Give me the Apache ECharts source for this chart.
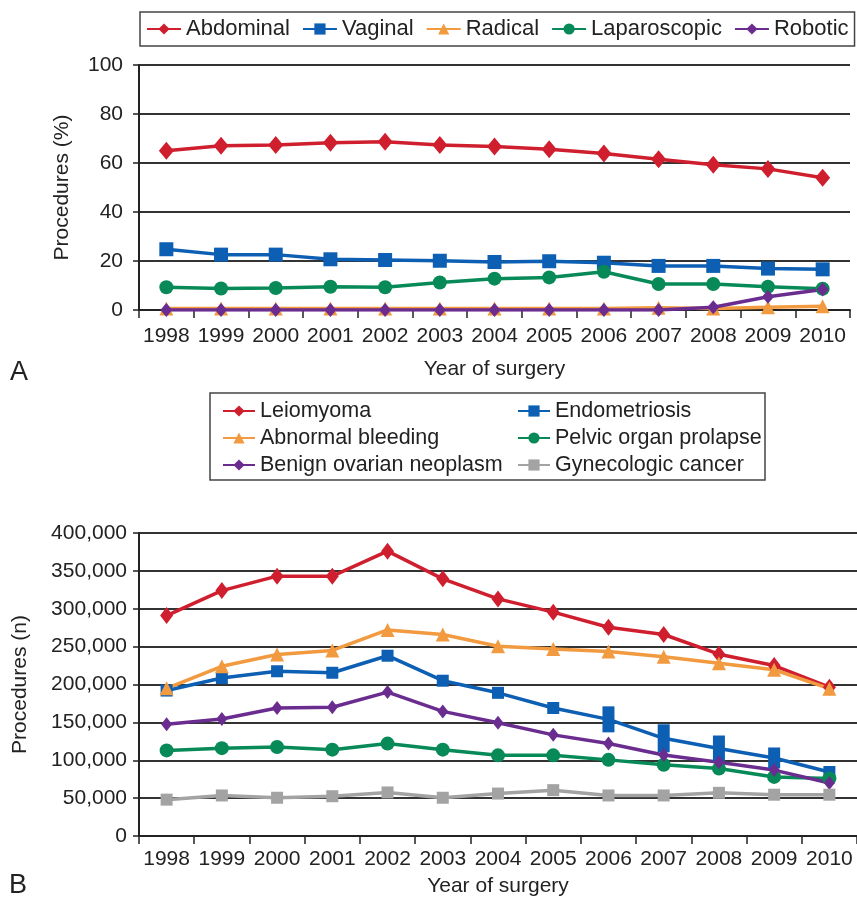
<!DOCTYPE html>
<html>
<head>
<meta charset="utf-8">
<script src="https://cdn.jsdelivr.net/npm/echarts@6/dist/echarts.min.js"></script>
<style>
html,body{margin:0;padding:0;background:#fff;}
#c{width:857px;height:899px;}
</style>
</head>
<body>
<div id="c"></div>
<script>
// ---- data ----
const years = ['1998','1999','2000','2001','2002','2003','2004','2005','2006','2007','2008','2009','2010'];

// Panel A (%)
const abdominal    = [65, 67, 67.3, 68.3, 68.7, 67.3, 66.7, 65.6, 63.9, 61.5, 59.3, 57.6, 54];
const vaginal      = [24.8, 22.6, 22.6, 20.7, 20.4, 20.1, 19.6, 19.9, 19.3, 18, 18, 16.9, 16.6];
const radical      = [0.6, 0.6, 0.6, 0.6, 0.6, 0.6, 0.6, 0.6, 0.6, 0.9, 0.6, 1.1, 1.5];
const laparoscopic = [9.3, 8.8, 9, 9.5, 9.3, 11.2, 12.8, 13.3, 15.6, 10.6, 10.6, 9.5, 8.7];
const robotic      = [0, 0, 0, 0, 0, 0, 0, 0, 0, 0, 1.1, 5.4, 8.4];

// Panel B (n)
const leiomyoma     = [291000, 324000, 343000, 343000, 376000, 339500, 313000, 295500, 275500, 266000, 240000, 225000, 196500];
const endometriosis = [192000, 208500, 217500, 215500, 238000, 205000, 189000, 169000, 154000, 129000, 115500, 103000, 84500];
const abnormal      = [195000, 224000, 239500, 245000, 272000, 266000, 250500, 247000, 243500, 236500, 228000, 219500, 194500];
const pelvic        = [113000, 116000, 117500, 114000, 122000, 114000, 106500, 106500, 100500, 94000, 89000, 78000, 76000];
const benign        = [147500, 154500, 169000, 170000, 190000, 164500, 149500, 133500, 122000, 107000, 97500, 87000, 70000];
const gyncancer     = [48000, 53500, 50500, 52500, 57500, 50500, 56000, 60500, 53500, 53500, 57000, 54500, 54500];

// ---- styles ----
const FONT = "'Liberation Sans', Arial, sans-serif";
const TXT = '#222';
const C = {red:'#cf1f2e', blue:'#0c5fb3', orange:'#f29a3f', green:'#078a57', purple:'#6a2d8f', gray:'#a3a3a3'};
const endoMarkerH = [12,12,12,12,12,12,12,12,26,28,26,21,12];

function mk(name, data, color, symbol, size, idx, extra) {
  return Object.assign({
    name: name, type: 'line', data: data,
    xAxisIndex: idx, yAxisIndex: idx,
    symbol: symbol, symbolSize: size,
    itemStyle: {color: color},
    lineStyle: {color: color, width: 3.5},
    animation: false
  }, extra || {});
}

function xAx(idx, margin, nameGap) {
  return {
    type: 'category', data: years, gridIndex: idx, boundaryGap: true,
    name: 'Year of surgery', nameLocation: 'middle', nameGap: nameGap,
    nameTextStyle: {fontFamily: FONT, fontSize: 21, color: TXT},
    axisLine: {lineStyle: {color: '#222', width: 2}},
    axisTick: {show: true, inside: false, length: 8, lineStyle: {color: '#222', width: 1.5}},
    axisLabel: {fontFamily: FONT, fontSize: 21, color: TXT, margin: margin, interval: 0},
    splitLine: {show: false}
  };
}
function yAx(idx, max, interval, name, nameGap, margin, fmt) {
  return {
    type: 'value', gridIndex: idx, min: 0, max: max, interval: interval,
    name: name, nameLocation: 'middle', nameGap: nameGap, nameRotate: 90,
    nameTextStyle: {fontFamily: FONT, fontSize: 21, color: TXT},
    axisLine: {show: true, lineStyle: {color: '#222', width: 2}},
    axisTick: {show: true, inside: false, length: 6, lineStyle: {color: '#222', width: 1.5}},
    axisLabel: {fontFamily: FONT, fontSize: 21, color: TXT, margin: margin, formatter: fmt},
    splitLine: {show: true, lineStyle: {color: '#333', width: 2}}
  };
}

const chart = echarts.init(document.getElementById('c'), null, {renderer: 'canvas'});
const legendTextA = {fontFamily: FONT, fontSize: 22, color: TXT};
const legendTextB = {fontFamily: FONT, fontSize: 21.5, color: TXT};

chart.setOption({
  backgroundColor: '#fff',
  animation: false,
  grid: [
    {left: 139, right: 7, top: 65, height: 245, containLabel: false},
    {left: 139, right: 0, top: 533, height: 303, containLabel: false}
  ],
  legend: [
    {
      data: ['Abdominal','Vaginal','Radical','Laparoscopic','Robotic'],
      left: 140, top: 12, orient: 'horizontal',
      itemWidth: 34, itemHeight: 14, itemGap: 12,
      padding: [6, 6, 6, 6],
      borderColor: '#444', borderWidth: 1.5,
      textStyle: legendTextA
    },
    {
      data: ['Leiomyoma','Abnormal bleeding','Benign ovarian neoplasm'],
      left: 222, top: 400, orient: 'vertical',
      itemWidth: 32, itemHeight: 14, itemGap: 5, padding: 0,
      textStyle: legendTextB
    },
    {
      data: ['Endometriosis','Pelvic organ prolapse','Gynecologic cancer'],
      left: 517, top: 400, orient: 'vertical',
      itemWidth: 32, itemHeight: 14, itemGap: 5, padding: 0,
      textStyle: legendTextB
    }
  ],
  xAxis: [xAx(0, 16, 49), xAx(1, 13, 40)],
  yAxis: [
    yAx(0, 100, 20, 'Procedures (%)', 66, 16),
    yAx(1, 400000, 50000, 'Procedures (n)', 108, 12, function (v) { return v.toLocaleString('en-US'); })
  ],
  graphic: [
    {type: 'rect', shape: {x: 210, y: 393, width: 555, height: 87}, style: {fill: 'none', stroke: '#444', lineWidth: 1.5}, silent: true},
    {type: 'text', left: 10, top: 359, style: {text: 'A', fontFamily: FONT, fontSize: 27, fill: TXT}},
    {type: 'text', left: 9, top: 872, style: {text: 'B', fontFamily: FONT, fontSize: 27, fill: TXT}}
  ],
  series: [
    mk('Abdominal', abdominal, C.red, 'diamond', [15, 18], 0),
    mk('Vaginal', vaginal, C.blue, 'rect', 14, 0),
    mk('Radical', radical, C.orange, 'triangle', 14, 0),
    mk('Laparoscopic', laparoscopic, C.green, 'circle', 14, 0),
    mk('Robotic', robotic, C.purple, 'diamond', [12, 14], 0),

    mk('Leiomyoma', leiomyoma, C.red, 'diamond', [13, 17], 1),
    mk('Endometriosis', endometriosis, C.blue, 'rect', function (v, p) { return [12, endoMarkerH[p.dataIndex]]; }, 1),
    mk('Abnormal bleeding', abnormal, C.orange, 'triangle', 14, 1),
    mk('Pelvic organ prolapse', pelvic, C.green, 'circle', 14, 1),
    mk('Benign ovarian neoplasm', benign, C.purple, 'diamond', [11, 14], 1),
    mk('Gynecologic cancer', gyncancer, C.gray, 'rect', 12, 1)
  ]
});
</script>
</body>
</html>
